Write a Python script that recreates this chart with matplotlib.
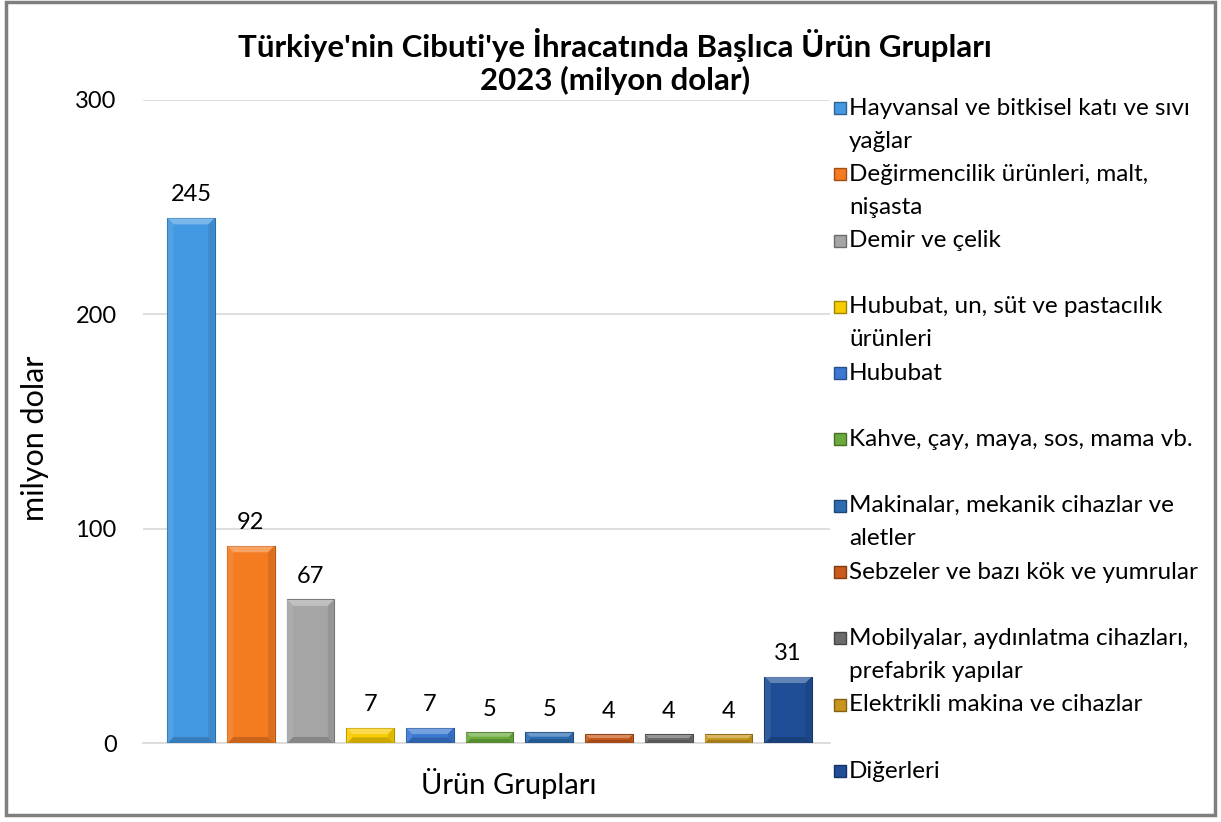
import matplotlib
matplotlib.use("Agg")
import matplotlib.pyplot as plt
from matplotlib.patches import Rectangle, Polygon
from matplotlib.transforms import IdentityTransform
import matplotlib.colors as mcolors

plt.rcParams['font.family'] = ['Lato', 'DejaVu Sans']

categories = [
    "Hayvansal ve bitkisel katı ve sıvı\nyağlar",
    "Değirmencilik ürünleri, malt,\nnişasta",
    "Demir ve çelik",
    "Hububat, un, süt ve pastacılık\nürünleri",
    "Hububat",
    "Kahve, çay, maya, sos, mama vb.",
    "Makinalar, mekanik cihazlar ve\naletler",
    "Sebzeler ve bazı kök ve yumrular",
    "Mobilyalar, aydınlatma cihazları,\nprefabrik yapılar",
    "Elektrikli makina ve cihazlar",
    "Diğerleri",
]
values = [245, 92, 67, 7, 7, 5, 5, 4, 4, 4, 31]
colors = ["#4398e2", "#f47b20", "#a5a5a5", "#f7cc00", "#3a78d2", "#6aab3c",
          "#2c6cb0", "#c75a1c", "#6b6b6b", "#c8961e", "#1f4e96"]
yticks = [0, 100, 200, 300]


def shade(c, f):
    r, g, b = mcolors.to_rgb(c)
    if f >= 0:
        return (r + (1 - r) * f, g + (1 - g) * f, b + (1 - b) * f)
    f = -f
    return (r * (1 - f), g * (1 - f), b * (1 - f))


W, H = 1221, 822
fig = plt.figure(figsize=(W / 100, H / 100), dpi=100)

ax = fig.add_axes([143 / W, 1 - 743 / H, (830 - 143) / W, (743 - 100) / H])
x = list(range(len(values)))
bars = ax.bar(x, values, width=0.8, color=colors,
              edgecolor=[shade(c, -0.3) for c in colors], linewidth=0.8, zorder=3)
ax.set_xlim(-0.804, 10.70)
ax.set_ylim(0, 300)

for i, v in enumerate(values):
    ax.annotate(str(v), (i, v), xytext=(0, 9), textcoords="offset points",
                ha="center", va="bottom", fontsize=17, color="#000000")

ax.set_yticks(yticks)
ax.set_yticklabels([str(t) for t in yticks], fontsize=17)
ax.set_xticks([])
ax.tick_params(axis="y", length=0, pad=19)
ax.grid(axis="y", color="#d9d9d9", linewidth=1.2, zorder=0)
for s in ["top", "right", "left"]:
    ax.spines[s].set_visible(False)
ax.spines["bottom"].set_color("#d9d9d9")
ax.spines["bottom"].set_linewidth(1.2)

# subtle bevel effect on each bar, computed from the bar geometry
fig.canvas.draw()
for bar, c in zip(bars, colors):
    (x0, y0), (x1, y1) = ax.transData.transform(
        [(bar.get_x(), 0), (bar.get_x() + bar.get_width(), bar.get_height())])
    x0 += 0.5; x1 -= 0.5; y1 -= 0.5
    b = min(6, (y1 - y0) / 2.6)
    polys = [
        ([(x0, y1), (x1, y1), (x1 - b, y1 - b), (x0 + b, y1 - b)], shade(c, 0.3)),
        ([(x0, y0), (x1, y0), (x1 - b, y0 + b), (x0 + b, y0 + b)], shade(c, -0.18)),
        ([(x0, y0), (x0 + b, y0 + b), (x0 + b, y1 - b), (x0, y1)], shade(c, 0.08)),
        ([(x1, y0), (x1 - b, y0 + b), (x1 - b, y1 - b), (x1, y1)], shade(c, -0.1)),
    ]
    for pts, col in polys:
        fig.patches.append(Polygon(pts, closed=True, transform=IdentityTransform(),
                                   facecolor=col, edgecolor="none", zorder=5))

fig.text(615 / W, 1 - 45 / H, "Türkiye'nin Cibuti'ye İhracatında Başlıca Ürün Grupları",
         ha="center", va="center", fontsize=22.5, fontweight="bold")
fig.text(615 / W, 1 - 80 / H, "2023 (milyon dolar)",
         ha="center", va="center", fontsize=22.5, fontweight="bold")
fig.text(35 / W, 1 - 438 / H, "milyon dolar", rotation=90, ha="center", va="center",
         fontsize=22)
fig.text(509 / W, 1 - 783 / H, "Ürün Grupları", ha="center", va="center", fontsize=21)

# legend drawn manually
ly0 = 108
slot = 66.3
for i, (lab, c) in enumerate(zip(categories, colors)):
    yc = ly0 + i * slot
    fig.patches.append(Rectangle((834 / W, 1 - (yc + 6) / H), 12 / W, 12 / H,
                                 transform=fig.transFigure, facecolor=c,
                                 edgecolor=shade(c, -0.35), linewidth=1))
    for j, line in enumerate(lab.split("\n")):
        fig.text(849 / W, 1 - (yc + j * 33) / H, line, ha="left", va="center",
                 fontsize=17.5)

# outer border
fig.patches.append(Rectangle((6 / W, 1 - 815 / H), (1215 - 6) / W, (815 - 2) / H,
                             transform=fig.transFigure, fill=False,
                             edgecolor="#7f7f7f", linewidth=2.5))

fig.savefig("out.png", dpi=100, facecolor="white")
